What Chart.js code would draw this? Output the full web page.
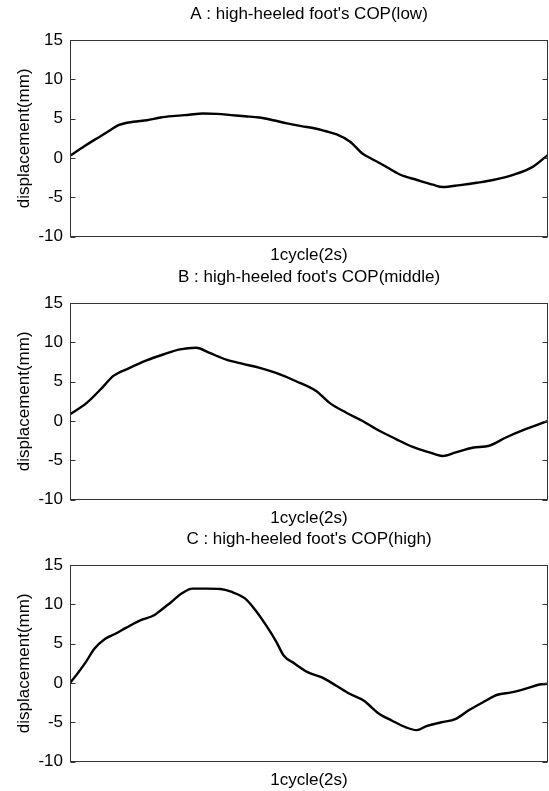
<!DOCTYPE html>
<html>
<head>
<meta charset="utf-8">
<script src="https://cdn.jsdelivr.net/npm/chart.js@4/dist/chart.umd.min.js"></script>
<style>
  html, body { margin: 0; padding: 0; background: #fff; }
  #wrap { position: relative; width: 549px; height: 791px; overflow: hidden; }
  .panel { position: absolute; left: 0; width: 549px; height: 266px; }
</style>
</head>
<body>
<div id="wrap">
  <div class="panel" style="top:0px"><canvas id="chartA" width="549" height="266"></canvas></div>
  <div class="panel" style="top:263px"><canvas id="chartB" width="549" height="266"></canvas></div>
  <div class="panel" style="top:525px"><canvas id="chartC" width="549" height="266"></canvas></div>
</div>
<script>
// textos e eixos
const titleA = "A : high-heeled foot's COP(low)";
const titleB = "B : high-heeled foot's COP(middle)";
const titleC = "C : high-heeled foot's COP(high)";
const xLabel = '1cycle(2s)';
const yLabel = 'displacement(mm)';
const yTicks = [-10, -5, 0, 5, 10, 15];

// A (low) - fração do ciclo / deslocamento (mm)
const xA = [0, .029, .051, .073, .103, .132, .161, .190, .220, .249, .278, .308, .337, .366, .396, .425, .454, .484, .513, .535, .558, .586, .613, .628, .655, .690, .726, .759, .780, .816, .851, .885, .927, .969, 1];
const yA = [0.27, 1.45, 2.3, 3.1, 4.2, 4.6, 4.8, 5.15, 5.35, 5.5, 5.65, 5.6, 5.45, 5.3, 5.15, 4.8, 4.4, 4.05, 3.75, 3.4, 3.0, 2.07, 0.5, 0.0, -0.89, -2.1, -2.8, -3.4, -3.7, -3.45, -3.15, -2.8, -2.15, -1.1, 0.4];

// B (middle)
const xB = [0, .035, .070, .090, .125, .160, .195, .230, .264, .292, .327, .362, .397, .431, .473, .515, .543, .578, .612, .647, .682, .717, .752, .779, .807, .842, .877, .912, .953, 1];
const yB = [0.85, 2.3, 4.4, 5.7, 6.75, 7.7, 8.45, 9.1, 9.3, 8.65, 7.8, 7.25, 6.75, 6.1, 5.05, 3.8, 2.3, 1.05, 0.0, -1.25, -2.3, -3.3, -4.0, -4.45, -4.0, -3.4, -3.15, -2.1, -1.05, 0.0];

// C (high)
const xC = [0, .015, .033, .051, .073, .095, .117, .147, .176, .190, .212, .234, .256, .286, .315, .337, .366, .388, .410, .432, .447, .469, .498, .527, .557, .586, .615, .645, .674, .703, .725, .747, .777, .806, .835, .864, .894, .923, .952, .982, 1];
const yC = [0.0, 1.15, 2.65, 4.35, 5.6, 6.25, 7.0, 7.95, 8.6, 9.25, 10.3, 11.4, 12.0, 12.0, 11.95, 11.6, 10.75, 9.25, 7.35, 5.2, 3.5, 2.5, 1.35, 0.7, -0.35, -1.4, -2.25, -3.85, -4.8, -5.65, -6.0, -5.45, -5.0, -4.6, -3.45, -2.45, -1.5, -1.2, -0.75, -0.2, -0.1];

Chart.defaults.font.family = "'Liberation Sans', Arial, sans-serif";
Chart.defaults.color = '#000';

// moldura com ticks para dentro, dos dois lados
const framePlugin = {
    id: 'frame',
    afterDatasetsDraw(chart) {
        const { ctx, chartArea: a, scales: { y } } = chart;
        const l = Math.round(a.left) + 0.5;
        const r = Math.round(a.right) - 0.5;
        const t = Math.round(a.top) + 0.5;
        const b = Math.round(a.bottom) - 0.5;
        ctx.save();
        ctx.strokeStyle = '#333';
        ctx.lineWidth = 1;
        ctx.strokeRect(l, t, r - l, b - t);
        ctx.beginPath();
        y.ticks.forEach(tk => {
            const py = Math.round(y.getPixelForValue(tk.value)) + 0.5;
            ctx.moveTo(l, py); ctx.lineTo(l + 5, py);
            ctx.moveTo(r, py); ctx.lineTo(r - 5, py);
        });
        ctx.stroke();
        ctx.restore();
    }
};

function makeChart(id, title, xs, ys) {
    const points = xs.map((x, i) => ({ x: x, y: ys[i] }));
    return new Chart(document.getElementById(id), {
        type: 'line',
        data: {
            datasets: [{
                data: points,
                borderColor: '#000',
                borderWidth: 2.4,
                pointRadius: 0,
                cubicInterpolationMode: 'monotone',
                fill: false
            }]
        },
        options: {
            responsive: false,
            animation: false,
            layout: { padding: { left: 0, right: 1, top: 0, bottom: 0 } },
            plugins: {
                legend: { display: false },
                tooltip: { enabled: false },
                title: {
                    display: true,
                    fullSize: false,
                    text: title,
                    color: '#000',
                    font: { size: 17, weight: 'normal' },
                    padding: { top: 4, bottom: 15.6 }
                }
            },
            scales: {
                x: {
                    type: 'linear',
                    min: 0,
                    max: 1,
                    ticks: { display: false },
                    grid: { display: false, drawTicks: false },
                    border: { display: false },
                    title: {
                        display: true,
                        text: xLabel,
                        color: '#000',
                        font: { size: 17 },
                        padding: { top: 9, bottom: 0 }
                    }
                },
                y: {
                    type: 'linear',
                    min: -10,
                    max: 15,
                    afterBuildTicks: s => { s.ticks = yTicks.map(v => ({ value: v })); },
                    ticks: { color: '#000', font: { size: 17 }, padding: 7 },
                    grid: { display: false, drawTicks: false },
                    border: { display: false },
                    title: {
                        display: true,
                        text: yLabel,
                        color: '#000',
                        font: { size: 17 },
                        padding: { top: 14, bottom: 0 }
                    },
                    afterFit: s => { s.width = 70; }
                }
            }
        },
        plugins: [framePlugin]
    });
}

makeChart('chartA', titleA, xA, yA);
makeChart('chartB', titleB, xB, yB);
makeChart('chartC', titleC, xC, yC);
</script>
</body>
</html>
